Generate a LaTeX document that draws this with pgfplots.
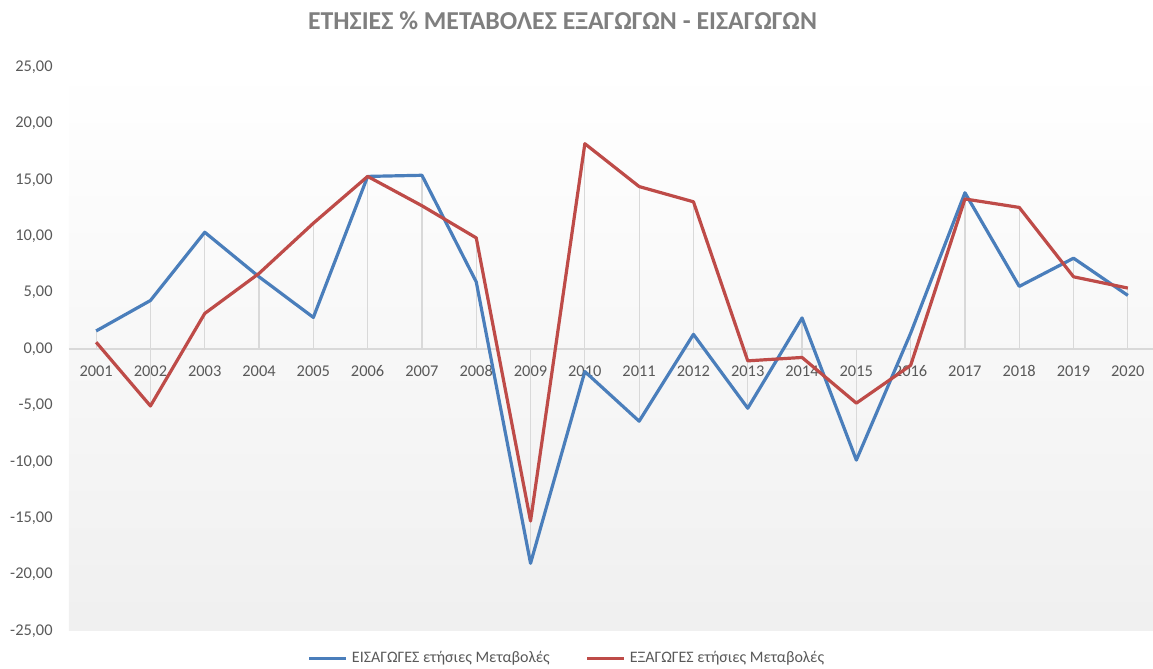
\documentclass[border=0pt]{standalone}
\usepackage{fontspec}
\setmainfont{Carlito}
\usepackage{pgfplots}
\pgfplotsset{compat=1.18}
\definecolor{ser1}{HTML}{4A7EBB}
\definecolor{ser2}{HTML}{BE4B48}
\definecolor{txt}{HTML}{595959}
\definecolor{ttl}{HTML}{7F7F7F}
\definecolor{gridc}{HTML}{D9D9D9}
\begin{document}
\begin{tikzpicture}[x=1pt,y=1pt]
\path[use as bounding box] (0,0) rectangle (576.5,334.5);
\begin{axis}[
  at={(34.5pt,19pt)}, anchor=south west,
  width=543pt, height=282pt, scale only axis,
  xmin=2000.5, xmax=2020.5, ymin=-25, ymax=25,
  axis background/.style={top color=white, bottom color=black!6},
  axis x line*=middle, axis y line*=left,
  x axis line style={draw=gridc, line width=1pt, -},
  y axis line style={draw=none},
  xtick={2001,...,2020}, ytick={-25,-20,...,25},
  major tick length=0pt,
  /pgf/number format/assume math mode=true,
  xticklabel style={/pgf/number format/1000 sep={}, font=\fontsize{8.2}{9}\selectfont, text=txt, anchor=center, inner sep=0pt, yshift=-11pt},
  yticklabel={\pgfmathprintnumber[fixed,fixed zerofill,precision=2,use comma]{\tick}},
  yticklabel style={font=\fontsize{8.2}{9}\selectfont, text=txt, anchor=east, inner sep=0pt, xshift=-8pt},
  clip=false,
  legend style={at={(0.4595,-0.0479)}, anchor=center, draw=none, fill=none, font=\fontsize{8}{10}\selectfont, text=txt, /tikz/every even column/.append style={column sep=16pt}},
  legend columns=2, legend cell align=left,
  legend image code/.code={\draw[#1, line width=1.5pt] (0,0) -- (18.5pt,0);},
]
\addplot[ycomb, gridc, line width=0.6pt, forget plot] coordinates {
(2001,1.6) (2002,4.3) (2003,10.35) (2004,6.4) (2005,2.8) (2006,15.3) (2007,15.4) (2008,5.95) (2009,-19.0) (2010,-2.0)
(2011,-6.4) (2012,1.3) (2013,-5.25) (2014,2.75) (2015,-9.85) (2016,1.4) (2017,13.85) (2018,5.55) (2019,8.05) (2020,4.75)};
\addplot[ycomb, gridc, line width=0.6pt, forget plot] coordinates {
(2001,0.6) (2002,-5.05) (2003,3.15) (2004,6.7) (2005,11.15) (2006,15.3) (2007,12.7) (2008,9.85) (2009,-15.25) (2010,18.2)
(2011,14.4) (2012,13.05) (2013,-1.05) (2014,-0.75) (2015,-4.8) (2016,-1.45) (2017,13.3) (2018,12.55) (2019,6.4) (2020,5.4)};
\addplot[ser1, line width=1.6pt, line join=round] coordinates {
(2001,1.6) (2002,4.3) (2003,10.35) (2004,6.4) (2005,2.8) (2006,15.3) (2007,15.4) (2008,5.95) (2009,-19.0) (2010,-2.0)
(2011,-6.4) (2012,1.3) (2013,-5.25) (2014,2.75) (2015,-9.85) (2016,1.4) (2017,13.85) (2018,5.55) (2019,8.05) (2020,4.75)};
\addlegendentry{ΕΙΣΑΓΩΓΕΣ ετήσιες Μεταβολές}
\addplot[ser2, line width=1.6pt, line join=round] coordinates {
(2001,0.6) (2002,-5.05) (2003,3.15) (2004,6.7) (2005,11.15) (2006,15.3) (2007,12.7) (2008,9.85) (2009,-15.25) (2010,18.2)
(2011,14.4) (2012,13.05) (2013,-1.05) (2014,-0.75) (2015,-4.8) (2016,-1.45) (2017,13.3) (2018,12.55) (2019,6.4) (2020,5.4)};
\addlegendentry{ΕΞΑΓΩΓΕΣ ετήσιες Μεταβολές}
\end{axis}
\node[font=\bfseries\fontsize{12.9}{15}\selectfont, text=ttl] at (281.25,324) {ΕΤΗΣΙΕΣ \% ΜΕΤΑΒΟΛΕΣ ΕΞΑΓΩΓΩΝ - ΕΙΣΑΓΩΓΩΝ};
\end{tikzpicture}
\end{document}
